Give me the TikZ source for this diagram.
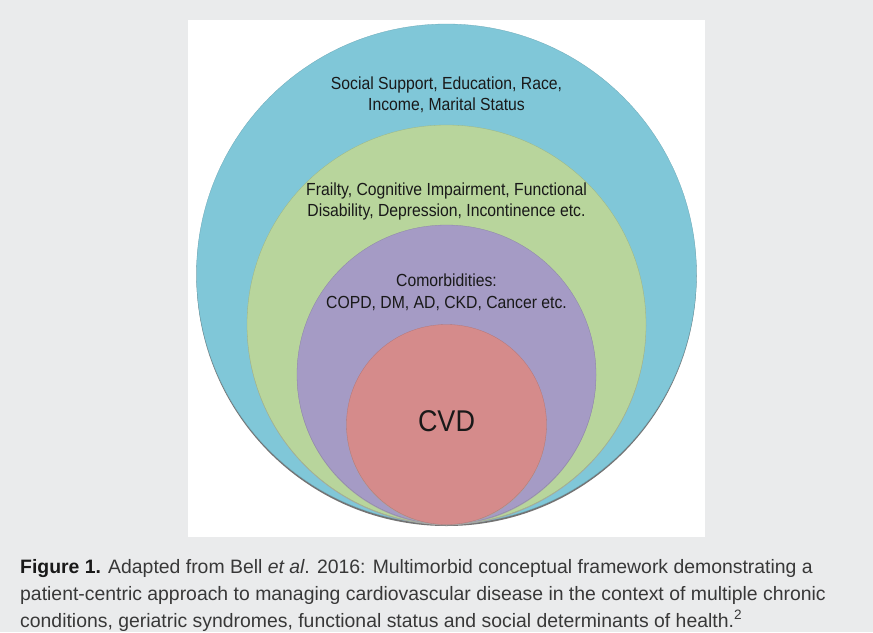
\documentclass[tikz,border=0pt]{standalone}
\usepackage{fontspec}
\setmainfont{Liberation Sans}
\newfontfamily\cf[FakeStretch=0.9]{Liberation Sans}
\definecolor{bgc}{HTML}{EAEBEC}
\definecolor{outerc}{HTML}{80C7D8}
\definecolor{midc}{HTML}{B8D59C}
\definecolor{innc}{HTML}{A59BC5}
\definecolor{corec}{HTML}{D58B8B}
\begin{document}
\begin{tikzpicture}[x=1pt,y=-1pt,
  ring/.style={circle,inner sep=0pt,minimum size=#1},
  lbl/.style={font=\cf\fontsize{17.5}{21.5}\selectfont,align=center,text=black!90},
  capline/.style={anchor=base west,inner sep=0pt,font=\fontsize{19.4}{23}\selectfont,text=black!78}]
\useasboundingbox (0,0) rectangle (873,632);
\fill[bgc] (0,0) rectangle (873,632);
\fill[white] (188,20) rectangle (705,537);
% shadows
\fill[black!55] (446.5,276) circle (250);
\node[ring=500pt,fill=outerc,draw=outerc!85!black,line width=0.3pt] (outer) at (446.5,274) {};
\fill[black!35] (446.5,325.5) circle (199.5);
\node[ring=399pt,fill=midc,draw=midc!85!black,line width=0.3pt] (mid) at (446.5,324.5) {};
\fill[black!35] (446.5,375.5) circle (149.5);
\node[ring=299pt,fill=innc,draw=innc!85!black,line width=0.3pt] (inn) at (446.5,374.5) {};
\fill[black!35] (446.5,425.5) circle (100);
\node[ring=200pt,fill=corec,draw=corec!85!black,line width=0.3pt] (core) at (446.5,424.5) {};
\node[lbl] (t1) at (446.5,95) {Social Support, Education, Race,\\Income, Marital Status};
\node[lbl] (t2) at (446.5,201.5) {Frailty, Cognitive Impairment, Functional\\Disability, Depression, Incontinence etc.};
\node[lbl] (t3) at (446.5,292.5) {Comorbidities:\\COPD, DM, AD, CKD, Cancer etc.};
\node[font=\cf\fontsize{30}{36}\selectfont,text=black!90] (cvd) at (446.5,421) {CVD};
\node[capline] (c1) at (20,573) {\textcolor{black!90}{\textbf{Figure 1.}} Adapted from Bell \textit{et al}. 2016: Multimorbid conceptual framework demonstrating a};
\node[capline] (c2) at (20,600) {patient-centric approach to managing cardiovascular disease in the context of multiple chronic};
\node[capline] (c3) at (20,627) {conditions, geriatric syndromes, functional status and social determinants of health.\textsuperscript{2}};
\end{tikzpicture}
\end{document}
